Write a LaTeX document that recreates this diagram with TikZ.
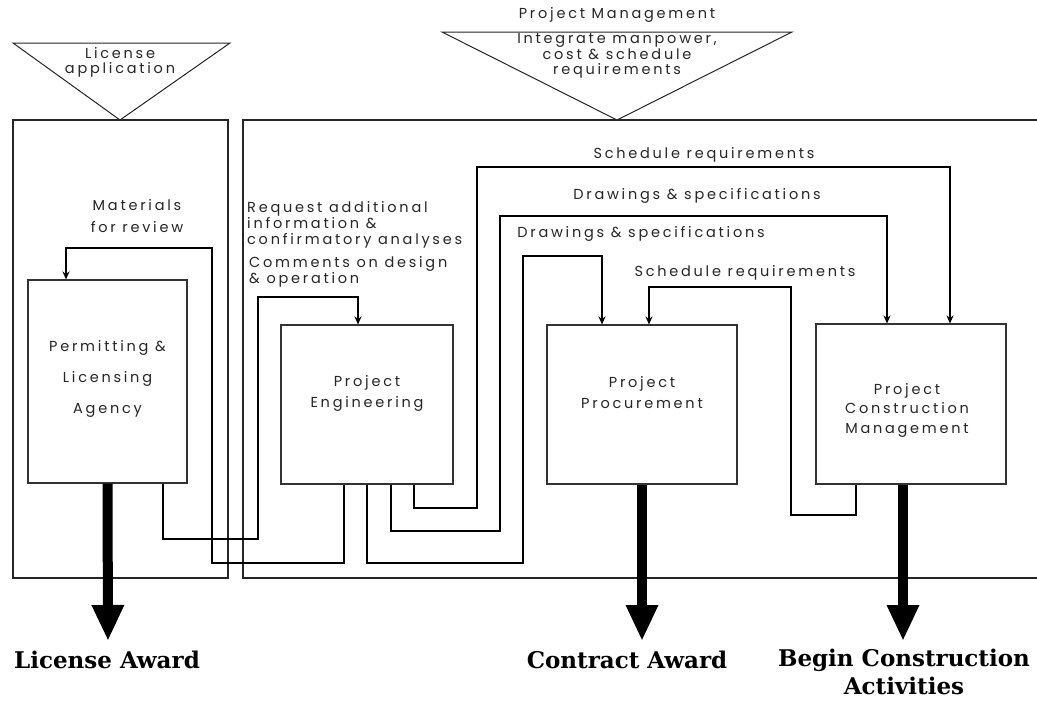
\documentclass[tikz,border=0pt]{standalone}
\usepackage{fontspec}
\usetikzlibrary{arrows.meta}
\newfontfamily\geo[LetterSpace=19]{Poppins}
\newfontfamily\slab{DejaVu Serif}
\begin{document}
\begin{tikzpicture}[x=1pt,y=-1pt,
  box/.style={draw=black!80, line width=1.1pt, inner sep=0pt},
  frame/.style={draw=black!85, line width=1.3pt},
  tri/.style={draw=black!85, line width=1pt},
  conn/.style={line width=2.4pt, line join=miter, -{Stealth[length=8pt,width=7pt]}},
  big/.style={line width=10pt, -{Triangle[length=36pt,width=30pt]}},
  lbl/.style={font=\geo\fontsize{14.5}{16}\selectfont, inner sep=0pt, text=black!85},
  intext/.style={font=\geo\fontsize{14.5}{20}\selectfont, align=center, text=black!85},
  award/.style={font=\slab\bfseries\fontsize{23}{28}\selectfont, inner sep=0pt, align=center}]
\useasboundingbox[fill=white] (0,0) rectangle (1037,702);

% frames
\draw[frame] (13,120) rectangle (228,578);
\draw[frame] (243,120) rectangle (1060,578);

% triangles
\draw[tri] (13,43) -- (230,43) -- (120,120) -- cycle;
\draw[tri] (442,32) -- (792,32) -- (617,120) -- cycle;
\node[lbl] (tl1) at (120,53) {License};
\node[lbl] (tl2) at (120,70) {application};
\node[lbl] (pm) at (617,15) {Project Management};
\node[lbl, align=center, font=\geo\fontsize{14.5}{15.5}\selectfont] (pmt) at (617,56) {Integrate manpower,\\cost \& schedule\\requirements};

% boxes
\node[box, minimum width=159pt, minimum height=203pt,
  label={[intext, yshift=3pt, font=\geo\fontsize{14.5}{31}\selectfont]center:{Permitting \&\\Licensing\\Agency}}] (perm) at (107.5,381.5) {};
\node[box, minimum width=172pt, minimum height=159pt,
  label={[intext, yshift=11pt, font=\geo\fontsize{14.5}{21}\selectfont]center:{Project\\Engineering}}] (eng) at (367,404.5) {};
\node[box, minimum width=190pt, minimum height=159pt,
  label={[intext, yshift=12pt, font=\geo\fontsize{14.5}{21}\selectfont]center:{Project\\Procurement}}] (proc) at (642,404.5) {};
\node[box, minimum width=190pt, minimum height=160pt,
  label={[intext, yshift=-6pt, xshift=-4pt, font=\geo\fontsize{14.5}{19.5}\selectfont]center:{Project\\Construction\\Management}}] (cons) at (911,404) {};

% connectors
\draw[conn] ([xshift=-23pt]eng.south) |- (212,563) |- (66,248) -- ([xshift=-41.5pt]perm.north);
\draw[conn] ([xshift=55.5pt]perm.south) |- (258,539) |- (358,297) -- ([xshift=-9pt]eng.north);
\draw[conn] (eng.south) |- (523,563) |- (602,256) -- ([xshift=-40pt]proc.north);
\draw[conn] ([xshift=24pt]eng.south) |- (500,531) |- (887,216) -- ([xshift=-24pt]cons.north);
\draw[conn] ([xshift=47pt]eng.south) |- (477,508) |- (950,167) -- ([xshift=39pt]cons.north);
\draw[conn] ([xshift=-55pt]cons.south) |- (791,515) |- (649,287) -- ([xshift=7pt]proc.north);

% connector labels
\node[lbl, align=center] (mat) at (137,216) {Materials\\[6pt]for review};
\node[lbl, anchor=west, align=left] (req) at (247,225) {Request additional\\information \&\\confirmatory analyses};
\node[lbl, anchor=west, align=left] (com) at (249,272) {Comments on design\\\& operation};
\node[lbl] (s1) at (704,155) {Schedule requirements};
\node[lbl] (d1) at (697,196) {Drawings \& specifications};
\node[lbl] (d2) at (641,234) {Drawings \& specifications};
\node[lbl] (s2) at (745,273) {Schedule requirements};

% outputs
\coordinate (pa) at (108,641);
\coordinate (ca) at (642,641);
\coordinate (ba) at (903,641);
\draw[big] (perm.south) -- (pa);
\draw[big] (proc.south) -- (ca);
\draw[big] ([xshift=-8pt]cons.south) -- (ba);
\node[award] (la) at (107,660) {License Award};
\node[award] (caw) at (627,660) {Contract Award};
\node[award] (bc) at (904,672) {Begin Construction\\Activities};
\end{tikzpicture}
\end{document}
